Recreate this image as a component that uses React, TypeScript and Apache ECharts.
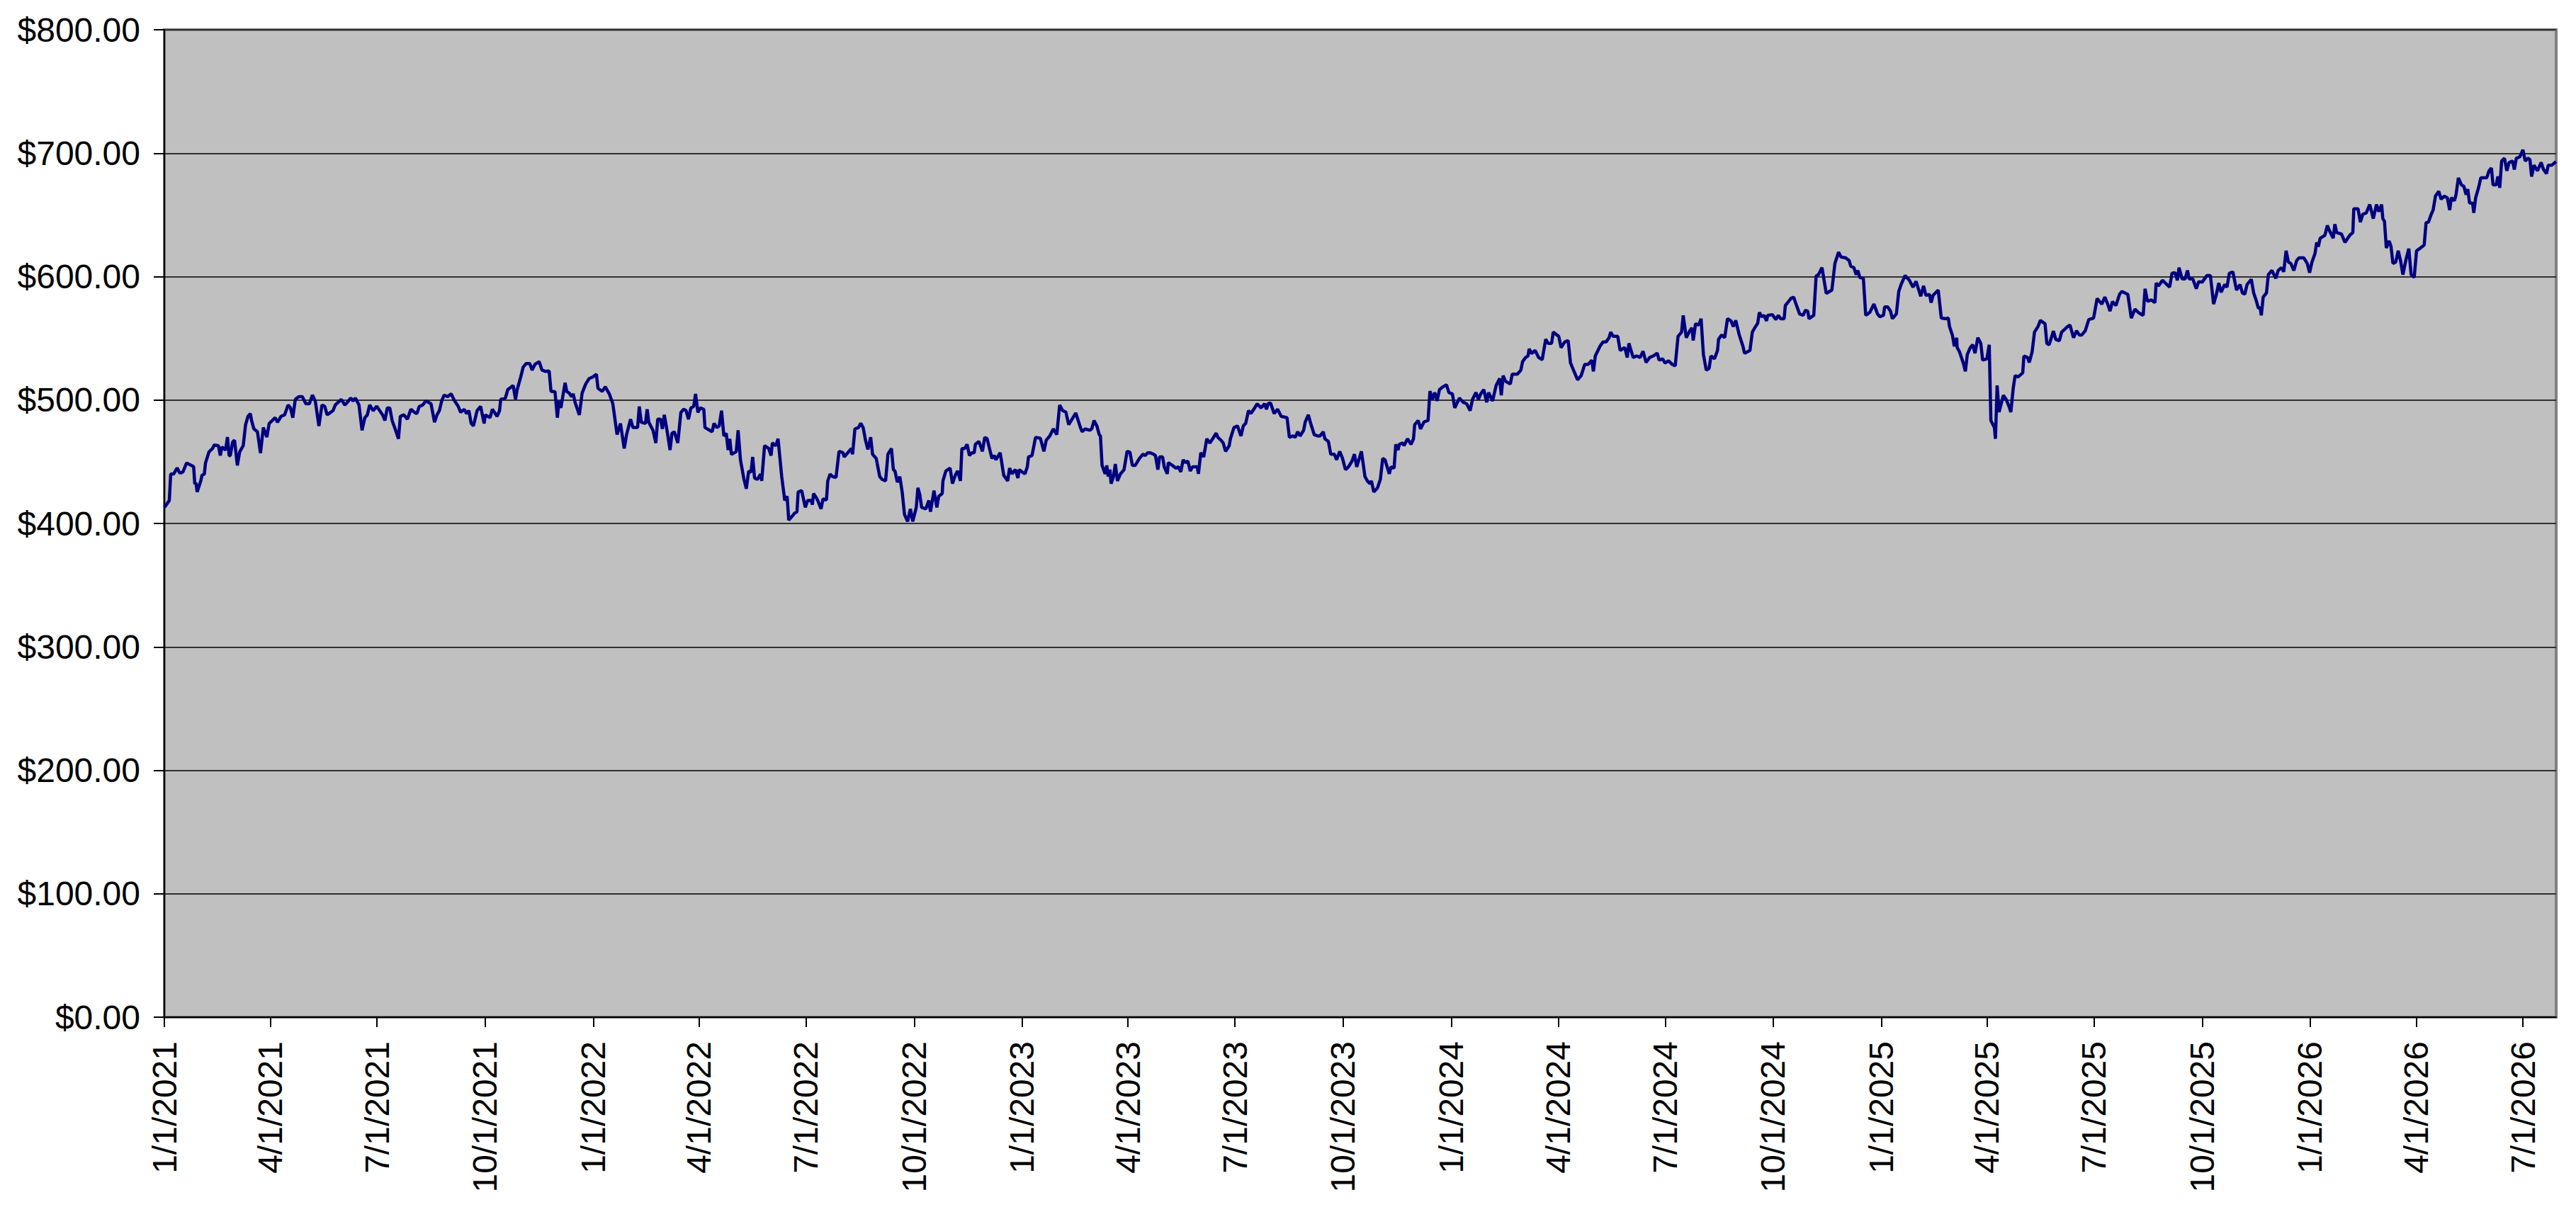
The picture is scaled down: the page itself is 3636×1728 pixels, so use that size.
import React, { useEffect, useRef } from "react";
import * as echarts from "echarts";

// Start of the date axis and last plotted day (offset in days from the start)
const startDate = "2021-01-01";
const endDayOffset = 2035.2;

// Price series: [day offset from 1/1/2021, price $]
const pricePoints: [number, number][] = [
  [0, 413], [4.2, 418.6], [5.4, 440], [7.8, 440], [10.9, 445], [12.9, 441], [14.3, 441], [15.9, 442], [18.9, 449], [22.9, 447],
  [24.9, 446], [25.9, 432], [26.9, 433], [27.9, 425.5], [31.0, 434.5], [32.0, 439], [34.0, 440], [35.0, 449], [38.0, 458], [41.0, 460.7],
  [42.4, 463.6], [46.0, 463], [47.6, 455], [49.0, 462], [52.1, 459.5], [53.7, 470], [55.1, 455], [56.1, 455], [58.1, 466], [59.7, 467.5],
  [62.1, 447], [64.1, 458], [67.1, 463], [69.1, 480], [71.2, 486.8], [73.2, 489], [74.2, 483.4], [76.2, 476.6], [79.2, 474.3], [81.8, 457],
  [84.2, 477.7], [87.2, 470], [89.2, 481], [94.3, 485.7], [96.3, 482], [99.3, 486.8], [102.3, 488], [105.3, 496], [107.3, 493.6], [109.3, 485.7],
  [111.4, 500.5], [114.4, 502.7], [117.4, 502.7], [120.4, 497], [123.4, 497], [126.0, 504], [128.4, 499.3], [131.5, 479], [134.1, 496], [136.5, 494.8],
  [138.5, 488], [143.5, 491.4], [145.5, 496], [150.5, 500.5], [153.6, 496], [155.6, 498], [158.6, 501.6], [160.6, 499.3], [162.6, 501.6], [165.6, 496],
  [168.2, 475.5], [170.6, 485.7], [172.7, 488], [174.7, 496], [177.7, 491.4], [180.7, 495], [185.7, 488], [187.7, 483.4], [189.7, 493.6], [191.8, 493.6],
  [193.8, 483.4], [196.8, 475.5], [199.2, 468.6], [200.8, 486.8], [203.8, 488], [206.8, 484.5], [209.8, 492.5], [212.9, 490], [214.9, 489], [216.9, 494.8],
  [219.9, 496], [222.5, 499.3], [226.9, 497], [229.9, 482], [232.0, 488], [234.0, 491.4], [236.0, 499.3], [238.0, 504], [241.0, 502.7], [244.0, 505],
  [247.0, 499.3], [250.0, 495], [252.1, 490], [255.1, 492.5], [257.1, 489], [259.1, 491.4], [261.1, 481],
  [263.0, 479], [266.1, 491.4], [269.1, 494.8], [272.1, 481], [273.1, 488], [277.1, 485.7], [279.1, 492.5], [283.1, 486.8], [285.2, 491.4], [286.2, 500.5],
  [290.2, 501.6], [292.2, 508.4], [296.8, 511.8], [298.8, 500.5], [300.2, 508.4], [303.2, 518.6], [305.3, 526.6], [307.7, 529.5], [310.9, 529.5], [312.9, 524.3],
  [315.3, 528.9], [318.9, 531.1], [321.3, 524.3], [324.3, 523.2], [327.4, 523.6], [329.0, 507], [332.4, 506.8], [334.4, 485.7], [335.8, 499.3], [337.4, 493.6],
  [341.0, 514], [342.4, 507], [344.4, 505.7], [346.5, 502.7], [347.9, 505], [349.5, 498], [353.1, 488], [355.5, 505.7], [358.5, 513], [361.5, 517.5],
  [364.5, 518.6], [367.6, 521], [369.0, 509.5], [372.6, 507], [375.2, 510.7], [378.6, 505], [381.6, 497], [385.2, 472], [388.1, 481], [391.3, 460.7],
  [393.3, 472], [396.7, 484.5], [398.7, 477.7], [402.7, 477.7], [404.1, 494.8], [405.8, 482], [409.4, 481], [410.8, 492.5], [412.2, 482], [415.8, 475.5],
  [418.2, 465.2], [419.8, 484.5], [422.2, 484.5], [423.8, 476.6], [425.4, 488], [427.9, 474.3], [430.3, 459.5], [431.9, 473], [433.9, 474.3], [436.9, 465.2],
  [439.5, 490], [441.9, 492.5], [443.9, 491.4], [446.0, 484.5], [448.0, 493.6], [450.4, 494.8], [452.0, 505], [454.0, 490], [456.0, 493.6], [459.0, 492.5],
  [460.0, 477.7], [466.1, 474.3], [467.7, 481], [470.1, 477.7], [472.1, 479], [474.1, 491.4], [476.1, 470.9], [478.1, 473], [479.7, 459.5], [481.1, 468.6],
  [482.5, 456], [486.6, 458.2], [488.2, 475.5], [490.2, 451.6], [493.2, 435.7], [495.2, 428.2], [497.2, 442.5], [499.2, 441.4], [500.6, 453.9], [502.2, 436.8],
  [504.6, 435.7], [507.3, 440], [508.3, 434.5], [510.7, 463], [514.3, 460.7], [516.3, 455], [517.3, 465.2], [520.3, 463],
  [522.2, 468.6], [525.3, 438], [527.9, 418.6], [529.9, 422], [531.3, 402.7], [534.3, 406], [536.3, 408.4], [538.3, 409.5], [539.3, 425.5], [542.3, 426.6],
  [545.4, 413], [547.4, 418.6], [550.4, 418.6], [551.4, 415.2], [552.4, 424.3], [555.4, 419.8], [558.8, 411.8], [560.4, 419.8], [563.4, 419.1], [564.5, 434.5],
  [566.5, 440], [568.5, 438], [571.5, 437.3], [574.1, 458.4], [577.5, 457.3], [578.5, 453.9], [580.5, 456.1], [582.5, 458.4], [584.6, 460.7], [585.6, 456.1],
  [587.6, 476.6], [590.6, 477.7], [592.6, 481.1], [594.6, 477.7], [596.6, 467.5], [598.6, 460], [601.0, 469.8], [602.6, 456.1], [605.7, 452.7], [608.7, 438],
  [610.7, 435.7], [613.7, 434.5], [615.7, 456.1], [618.7, 460.7], [620.3, 443.6], [621.7, 442.5], [623.7, 433.4], [625.8, 438], [627.8, 425.5], [629.8, 407.3],
  [632.4, 401.6], [634.8, 411.8], [636.8, 401.6], [639.8, 413], [641.2, 428.9], [642.8, 423.2], [644.4, 413], [647.9, 411.8], [650.5, 418.6], [651.9, 409.5],
  [654.9, 426.6], [657.3, 413], [658.9, 422], [661.9, 424.3], [662.5, 434.5], [665.0, 442.5], [668.6, 444.8], [670.6, 432.3], [673.0, 439.1], [675.0, 442.5],
  [677.4, 434.5], [678.6, 460.7], [681.0, 460.7], [683.0, 464.1], [685.1, 455], [687.1, 457.3], [689.1, 457.3], [690.1, 464.1], [693.1, 466.4], [696.1, 458.4],
  [698.1, 469.8], [700.1, 468.6], [704.2, 452.7], [706.2, 455], [707.6, 451.6], [711.2, 457.3], [714.2, 439.1], [717.6, 434.5], [719.2, 444.8], [721.2, 440.2],
  [724.2, 443.6], [726.3, 436.8], [727.3, 443.6], [730.3, 441.4], [732.3, 440.2], [734.3, 445.9], [735.3, 453.9], [738.3, 455], [741.3, 469.8], [745.4, 469],
  [748.4, 458.4], [750.4, 467.5], [753.4, 470.9], [756.4, 476.6], [759.4, 472], [761.8, 495.9], [764.4, 491.4], [767.1, 490.2], [769.5, 480], [775.5, 489.5],
  [779.5, 477.7],
  [781.0, 474.3], [783.4, 476.6], [787.5, 475.5], [789.1, 476.6], [791.1, 483.4], [793.5, 479], [795.5, 472], [796.5, 470.9], [797.9, 447], [800.5, 440.2],
  [801.9, 447], [803.1, 438], [804.6, 443.6], [805.6, 432.3], [807.6, 438], [809.2, 448.2], [811.0, 434.5], [813.6, 440.2], [816.6, 443.6], [817.6, 449.3],
  [819.2, 458.4], [821.6, 457.7], [823.7, 447], [826.1, 447], [829.7, 452.7], [832.7, 456.1], [834.7, 455], [836.7, 457.3], [838.7, 457.3], [841.7, 456.1],
  [843.3, 455], [845.4, 443.6], [846.8, 453.9], [849.4, 453.9], [850.8, 445.9], [853.4, 440.2], [854.2, 449.3], [857.8, 447], [860.8, 444.8], [862.8, 445.9],
  [864.9, 441.8], [866.9, 451.6], [868.9, 449.3], [870.9, 450.5], [872.9, 442.5], [874.9, 445.9], [878.9, 445.9], [879.9, 440.2], [881.9, 457.3], [884.4, 453.9],
  [887.0, 468.6], [889.6, 465.2], [892.0, 468.6], [895.0, 473.2], [896.4, 469.8], [899.0, 467.5], [901.0, 465.2], [903.0, 458.4], [906.1, 463], [907.1, 468.6],
  [910.1, 477.7], [913.1, 479], [916.1, 470.9], [918.1, 479], [920.1, 481.1], [922.5, 491.4], [924.5, 489.1], [927.8, 493.6], [929.8, 497], [933.2, 493.6],
  [936.2, 497], [937.8, 492.5], [939.2, 497], [941.2, 497.7], [944.3, 489.1], [947.3, 492.5], [950.3, 486.8], [955.3, 485.7], [957.3, 469.8], [960.3, 470.9],
  [962.3, 469.8], [964.4, 474.3], [966.4, 470.9], [969.4, 475.5], [970.8, 482.3], [973.4, 488], [975.4, 481.1], [978.4, 472], [981.4, 470.9], [983.4, 470.9],
  [986.1, 474.3], [987.5, 468.6], [990.5, 466.4], [992.5, 456.1], [995.5, 456.1], [997.5, 451.6], [1000.1, 458.4], [1002.5, 452.7], [1005.0, 443.6], [1007.6, 445.9],
  [1010.6, 450.5], [1012.6, 456.1], [1014.6, 445.9], [1018.6, 458.4], [1021.6, 438], [1023.6, 434.5], [1025.7, 432.3], [1027.1, 434.5], [1029.1, 425.5], [1032.3, 428.9],
  [1034.7, 435.7], [1036.7, 452.7], [1038.7, 451.6],
  [1039.7, 448.2], [1042.3, 440.2], [1043.8, 445.9], [1046.4, 444.8], [1047.8, 464.1], [1049.8, 459.5], [1050.8, 464.1], [1053.8, 465.2], [1054.8, 463], [1057.8, 468.6],
  [1060.8, 464.1], [1062.9, 468.6], [1063.9, 480], [1066.9, 483.4], [1068.9, 476.6], [1071.9, 482.3], [1075.3, 483.4], [1076.9, 507.3], [1078.9, 500.5], [1080.9, 506.1],
  [1083.0, 499.3], [1085.0, 508.4], [1088.0, 510.7], [1091.0, 512.3], [1093.0, 506.1], [1096.0, 505], [1098.0, 493.6], [1102.0, 501.6], [1105.1, 498.2], [1108.1, 497],
  [1111.1, 491.4], [1113.1, 500.5], [1116.1, 506.1], [1118.1, 500.5], [1120.1, 505], [1122.7, 508.4], [1125.2, 498.2], [1126.8, 506.1], [1130.2, 499.3], [1133.2, 511.8],
  [1136.2, 517.5], [1137.6, 503.9], [1139.2, 519.8], [1141.2, 515.2], [1145.3, 513], [1146.9, 521], [1151.3, 521], [1154.3, 524.3], [1155.7, 531.1], [1158.3, 534.5],
  [1160.3, 535.7], [1161.3, 541.4], [1163.4, 537.7], [1166.4, 540.2], [1169.4, 534.5], [1172.4, 532.7], [1175.4, 549.3], [1177.4, 545.9], [1180.4, 545.9], [1181.8, 555],
  [1186.5, 551.6], [1188.5, 542.5], [1191.5, 547], [1194.5, 548.2], [1196.5, 530], [1199.5, 523.2], [1202.5, 516.4], [1205.6, 519.8], [1208.6, 528.9], [1211.6, 528.9],
  [1214.6, 532.3], [1216.0, 523.2], [1217.6, 535.7], [1221.6, 543.6], [1224.1, 547], [1226.7, 547], [1229.3, 550.5], [1230.7, 555], [1232.7, 551.6], [1236.7, 551.6],
  [1238.7, 540.2], [1242.7, 542.5], [1244.8, 534.5], [1246.2, 545.9], [1249.8, 534.5], [1252.8, 535.7], [1255.8, 534.5], [1258.2, 539.5], [1260.8, 530.5], [1263.9, 534.5],
  [1266.9, 535.7], [1270.3, 538], [1271.9, 532.3], [1274.9, 533.4], [1276.9, 530], [1279.9, 531.8], [1283.0, 528.9], [1285.6, 527.7], [1288.0, 551.6], [1291.0, 555],
  [1292.4, 568.6], [1295.0, 550.5], [1298.0, 556.1],
  [1299.9, 558.4], [1300.9, 548.2], [1302.9, 561.8], [1305.6, 560.7], [1307.6, 565.9], [1309.6, 536.8], [1312.0, 524.3], [1314.4, 525.5], [1316.0, 535.7], [1319.0, 533.4],
  [1321.6, 540.2], [1322.5, 549.3], [1325.1, 552.7], [1327.7, 550.5], [1330.1, 565.9], [1333.1, 564.1], [1335.1, 559.5], [1337.1, 564.5], [1340.1, 552.7], [1343.2, 543.6],
  [1344.6, 537.9], [1349.2, 540.2], [1351.2, 555], [1353.2, 558.4], [1355.8, 562.3], [1357.2, 570.9], [1359.2, 567.5], [1361.2, 568.6], [1363.3, 564.1], [1364.3, 568.6],
  [1368.3, 569.1], [1371.3, 565.2], [1373.3, 568.6], [1375.3, 565.9], [1378.3, 565.9], [1379.3, 576.6], [1381.3, 578.9], [1384.0, 582.3], [1386.4, 583.4], [1388.4, 577.7],
  [1391.4, 569.8], [1394.4, 568.6], [1396.4, 572.7], [1398.4, 572], [1399.4, 565.9], [1403.5, 568.6], [1405.5, 600.5], [1407.5, 601.6], [1410.5, 607.3], [1414.1, 586.4],
  [1418.9, 589.1], [1421.5, 610.7], [1424.6, 619.8], [1426.6, 615.9], [1430.6, 615.2], [1433.6, 613], [1435.0, 608.4], [1437.6, 607.3], [1439.6, 601.6], [1441.0, 605],
  [1442.7, 599.3], [1445.7, 598.6], [1447.7, 568.6], [1451.1, 570.9], [1454.7, 577.7], [1457.7, 569.8], [1459.7, 567.5], [1462.8, 568.6], [1463.8, 575.5], [1466.4, 575.5],
  [1468.8, 572], [1470.4, 565.9], [1473.8, 569.8], [1475.8, 588], [1477.8, 593.6], [1481.2, 600.9], [1484.9, 597], [1487.9, 591.4], [1490.5, 596.1], [1492.5, 590.2],
  [1494.5, 584.1], [1496.9, 592.5], [1498.9, 584.8], [1502.0, 585.5], [1503.4, 578.9], [1505.0, 584.8], [1509.4, 589.1], [1512.0, 566.4], [1516.0, 565.9], [1518.0, 566.4],
  [1519.0, 559.5], [1521.4, 552.7], [1523.1, 543.6], [1525.1, 550.5], [1525.5, 542.5], [1527.5, 539.1], [1530.7, 530], [1532.5, 523.2], [1534.1, 536.8], [1536.7, 542.5],
  [1538.7, 544.8], [1540.7, 537.9], [1543.1, 550.5], [1545.6, 545.9], [1547.2, 532.3], [1550.8, 533.4], [1552.8, 544.8], [1554.2, 483.4], [1557.2, 477.7],
  [1558.1, 468.6], [1559.5, 511.8], [1561.2, 490.2], [1564.8, 503.9], [1567.2, 500.5], [1569.2, 495.9], [1571.2, 490.2], [1573.2, 509.5], [1574.8, 519.8], [1577.2, 518.6],
  [1581.3, 522], [1582.3, 535.7], [1585.3, 534.5], [1586.9, 530.5], [1589.3, 539.1], [1591.3, 555], [1594.3, 559.5], [1596.3, 564.5], [1600.3, 561.8], [1601.8, 545.9],
  [1603.8, 544.8], [1607.4, 555.9], [1609.4, 549.1], [1612.4, 548], [1614.4, 555], [1617.0, 557.3], [1619.4, 559.5], [1621.5, 560.7], [1624.5, 550.5], [1627.1, 556.1],
  [1629.5, 552.7], [1631.5, 552.7], [1634.5, 556.1], [1637.5, 565.2], [1641.6, 566.4], [1644.6, 582.3], [1648.6, 577.7], [1651.2, 583.4], [1653.6, 577.7], [1655.6, 572],
  [1657.6, 579.8], [1660.6, 576.6], [1663.7, 585.7], [1665.7, 588], [1670.7, 585.7], [1673.7, 566.4], [1676.7, 573.6], [1679.7, 570.9], [1683.8, 568.6], [1685.4, 590.2],
  [1687.4, 580], [1690.8, 581.1], [1693.8, 578.9], [1694.8, 594.8], [1696.8, 592.5], [1700.2, 597], [1703.9, 593.6], [1706.3, 591.4], [1708.3, 602.7], [1710.9, 603.2],
  [1712.9, 597], [1714.3, 607.3], [1716.9, 598.2], [1719.5, 598.2], [1721.5, 605], [1722.9, 598.2], [1726.0, 598.2], [1729.0, 590.2], [1731.0, 595.9], [1734.0, 595.5],
  [1738.0, 600.9], [1741.0, 600.9], [1743.7, 577.7], [1746.1, 585.7], [1748.1, 594.8], [1750.1, 587.3], [1753.1, 593.6], [1755.1, 591.4], [1757.1, 602.7], [1760.1, 603.9],
  [1763.2, 589.1], [1766.2, 593.6], [1768.2, 586.8], [1770.2, 585.7], [1772.2, 593.6], [1775.8, 597.7], [1777.8, 586.8], [1780.2, 580], [1781.8, 574.3], [1783.3, 575],
  [1784.3, 568.6], [1785.9, 583.4], [1788.7, 586.8], [1790.3, 601.6], [1793.3, 605], [1796.7, 598.6], [1798.7, 605], [1801.3, 607.3], [1803.4, 603.9], [1805.4, 620.9],
  [1807.4, 611.8], [1809.4, 610.7], [1812.0, 605], [1814.4, 613], [1816.4, 615.2],
  [1820.4, 615.2], [1823.4, 610.7], [1825.4, 603.2], [1827.4, 611.8], [1830.0, 618.6], [1831.4, 627.7], [1832.8, 624.3], [1834.4, 631.1], [1838.4, 633.4], [1840.5, 641.4],
  [1842.5, 636.8], [1845.5, 631.1], [1846.9, 642.5], [1848.5, 635.7], [1852.5, 634.5], [1855.5, 627.7], [1859.5, 633.4], [1862.2, 635.7], [1863.0, 655], [1866.6, 655],
  [1868.6, 644.1], [1870.6, 650.5], [1873.6, 651.6], [1876.6, 658.4], [1879.6, 647], [1882.3, 658.4], [1884.3, 652.7], [1886.7, 658.4], [1887.7, 647], [1889.1, 644.8],
  [1890.7, 623.2], [1893.1, 628.9], [1894.7, 624.3], [1896.3, 610.7], [1898.7, 611.8], [1900.8, 620.9], [1902.8, 612.9], [1904.8, 601.6], [1907.2, 612.9], [1909.8, 622.7],
  [1911.8, 601.6], [1914.4, 599.3], [1916.4, 620.9], [1919.8, 623.2], [1922.9, 625.5], [1924.5, 643.6], [1926.5, 644.1], [1928.9, 650.5], [1930.5, 653.9], [1932.5, 665.2],
  [1935.3, 669.1], [1937.3, 662.7], [1940.0, 665.2], [1942.6, 663.9], [1944.6, 653.9], [1946.0, 663.9], [1948.6, 661.4], [1950.0, 666.4], [1952.0, 680], [1954.6, 674.3],
  [1956.6, 673.2], [1958.6, 666.4], [1960.0, 670.9], [1961.5, 659.5], [1964.1, 659.5], [1965.1, 651.6], [1966.7, 663.9], [1969.1, 671.8], [1971.1, 680], [1976.1, 680],
  [1978.1, 685.7], [1980.1, 688], [1981.5, 674.3], [1984.2, 674.3], [1985.6, 681.1], [1987.2, 672], [1988.8, 693.6], [1991.2, 695.9], [1993.2, 685.7], [1995.2, 692.5],
  [1998.2, 693.6], [1999.6, 686.8], [2001.3, 695.9], [2004.3, 697], [2006.9, 702.7], [2008.9, 693.6], [2011.3, 695.9], [2012.9, 694.8], [2014.3, 681.1], [2016.3, 690.2],
  [2019.3, 685.7], [2022.4, 692.5], [2024.4, 686.8], [2027.0, 683.4], [2028.4, 690.2], [2031.4, 690.2], [2035.0, 693.2],
];

// Axis ticks
const xTickLabels = [
  "1/1/2021", "4/1/2021", "7/1/2021", "10/1/2021",
  "1/1/2022", "4/1/2022", "7/1/2022", "10/1/2022",
  "1/1/2023", "4/1/2023", "7/1/2023", "10/1/2023",
  "1/1/2024", "4/1/2024", "7/1/2024", "10/1/2024",
  "1/1/2025", "4/1/2025", "7/1/2025", "10/1/2025",
  "1/1/2026", "4/1/2026", "7/1/2026",
];
const yMin = 0;
const yMax = 800;
const yStep = 100;

const DAY_MS = 86400000;
const FONT = "'Liberation Sans', Arial, Helvetica, sans-serif";

function parseMDY(s: string): number {
  const [m, d, y] = s.split("/").map(Number);
  return Date.UTC(y, m - 1, d);
}

export default function App() {
  const ref = useRef<HTMLDivElement>(null);

  useEffect(() => {
    document.body.style.margin = "0";
    if (!ref.current) return;
    const chart = echarts.init(ref.current, null, { renderer: "svg" });
    const start = Date.parse(startDate + "T00:00:00Z");
    const data = pricePoints.map(([d, v]) => [start + d * DAY_MS, v]);
    const tickVals = xTickLabels.map(parseMDY);

    chart.setOption({
      animation: false,
      backgroundColor: "#ffffff",
      grid: {
        left: 232,
        right: 28,
        top: 42,
        bottom: 292,
        show: true,
        backgroundColor: "#C0C0C0",
        borderColor: "#808080",
        borderWidth: 4,
        containLabel: false,
      },
      xAxis: {
        type: "value",
        min: start,
        max: start + endDayOffset * DAY_MS,
        scale: true,
        axisLine: { show: true, onZero: false, lineStyle: { color: "#000000", width: 2 } },
        axisTick: {
          show: true,
          inside: false,
          length: 14,
          customValues: tickVals,
          lineStyle: { color: "#000000", width: 2 },
        },
        axisLabel: {
          show: true,
          customValues: tickVals,
          rotate: 90,
          margin: 34,
          fontSize: 48,
          fontFamily: FONT,
          color: "#000000",
          hideOverlap: false,
          formatter: (v: number) => {
            const dt = new Date(v);
            return `${dt.getUTCMonth() + 1}/${dt.getUTCDate()}/${dt.getUTCFullYear()}`;
          },
        },
        splitLine: { show: false },
        minorTick: { show: false },
      },
      yAxis: {
        type: "value",
        min: yMin,
        max: yMax,
        interval: yStep,
        axisLine: { show: true, lineStyle: { color: "#000000", width: 2 } },
        axisTick: { show: true, inside: false, length: 15, lineStyle: { color: "#000000", width: 2 } },
        axisLabel: {
          margin: 34,
          fontSize: 48,
          fontFamily: FONT,
          color: "#000000",
          formatter: (v: number) => "$" + v.toFixed(2),
        },
        splitLine: { show: true, lineStyle: { color: "#303030", width: 2 } },
      },
      series: [
        {
          type: "line",
          data,
          showSymbol: false,
          symbol: "none",
          lineStyle: { color: "#000080", width: 4.5 },
          itemStyle: { color: "#000080" },
          z: 5,
        },
      ],
    });

    return () => chart.dispose();
  }, []);

  return (
    <div
      ref={ref}
      style={{ position: "absolute", left: 0, top: 0, width: "3636px", height: "1728px" }}
    />
  );
}
